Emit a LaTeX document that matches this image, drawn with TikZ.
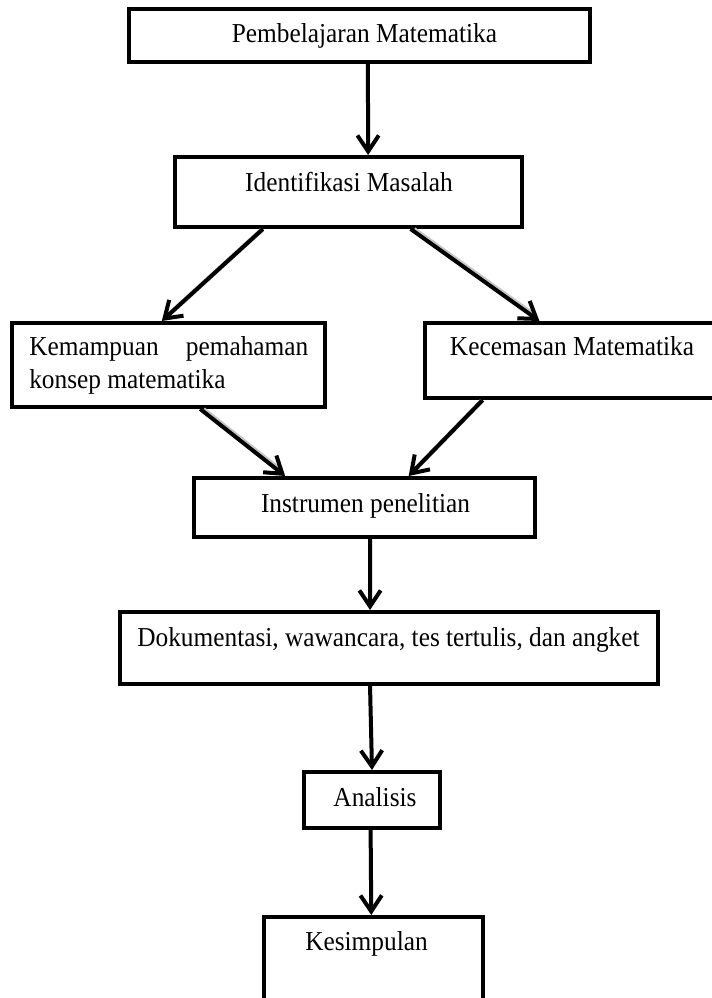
\documentclass[tikz,border=0pt]{standalone}
\usepackage{fontspec}
\setmainfont{Liberation Serif}
\usetikzlibrary{arrows.meta,calc}
\newcommand{\tx}[1]{\scalebox{1}[1.08]{#1}}
\begin{document}
\begin{tikzpicture}[x=0.75pt,y=-0.75pt,
  box/.style={draw, line width=3pt, rectangle, inner sep=0pt},
  lbl/.style={inner sep=0pt, font=\fontsize{19}{24.75}\selectfont},
  arr/.style={line width=3pt, -{Straight Barb[length=12pt,width=16pt,line width=3pt]}},
  shd/.style={preaction={draw=black!22, arrows=-, line width=3.5pt, shorten >=6pt, shorten <=2pt, transform canvas={shift={(0.9pt,0.9pt)}}}},
  ]
\clip (0,0) rectangle (712,998);
\fill[white] (0,0) rectangle (712,998);
% boxes
\node[box, minimum width=345.75pt, minimum height=39.75pt] (b1) at (359.5,35.5) {};
\node[box, minimum width=260.25pt, minimum height=52.5pt] (b2) at (348.5,192) {};
\node[box, minimum width=234.75pt, minimum height=63pt] (b3) at (168.5,365) {};
\node[box, minimum width=236.25pt, minimum height=56.25pt] (b4) at (582.5,360.5) {};
\node[box, minimum width=255.75pt, minimum height=44.25pt] (b5) at (364.5,507.5) {};
\node[box, minimum width=403.5pt, minimum height=54pt] (b6) at (389,648) {};
\node[box, minimum width=102pt, minimum height=42pt] (b7) at (372,800) {};
\node[box, minimum width=164.25pt, minimum height=77.25pt] (b8) at (373.5,968.5) {};
% texts
\node[lbl, anchor=base] (t1) at (364.5,43) {\tx{Pembelajaran Matematika}};
\node[lbl, anchor=base] (t2) at (349,192) {\tx{Identifikasi Masalah}};
\node[lbl, anchor=north west, align=left] (t3) at (29,336.5) {\tx{\makebox[209.25pt][s]{Kemampuan pemahaman}}\\\tx{konsep matematika}};
\node[lbl, anchor=base] (t4) at (572,355) {\tx{Kecemasan Matematika}};
\node[lbl, anchor=base] (t5) at (365.5,512) {\tx{Instrumen penelitian}};
\node[lbl, anchor=base] (t6) at (388.5,646) {\tx{Dokumentasi, wawancara, tes tertulis, dan angket}};
\node[lbl, anchor=base] (t7) at (375,806) {\tx{Analisis}};
\node[lbl, anchor=base] (t8) at (366.5,950) {\tx{Kesimpulan}};
% connectors
\draw[arr] ($(b1.south west)!0.518!(b1.south east)$) -- ($(b2.north west)!0.556!(b2.north east)$);
\draw[arr,shd] ($(b2.south west)!0.256!(b2.south east)$) -- ($(b3.north west)!0.479!(b3.north east)$);
\draw[arr,shd] ($(b2.south west)!0.677!(b2.south east)$) -- ($(b4.north west)!0.365!(b4.north east)$);
\draw[arr,shd] ($(b3.south west)!0.60!(b3.south east)$) -- ($(b5.north west)!0.27!(b5.north east)$);
\draw[arr,shd] ($(b4.south west)!0.187!(b4.south east)$) -- ($(b5.north west)!0.628!(b5.north east)$);
\draw[arr] ($(b5.south west)!0.516!(b5.south east)$) -- ($(b6.north west)!0.465!(b6.north east)$);
\draw[arr] ($(b6.south west)!0.465!(b6.south east)$) -- ($(b7.north west)!0.5!(b7.north east)$);
\draw[arr] ($(b7.south west)!0.49!(b7.south east)$) -- ($(b8.north west)!0.49!(b8.north east)$);
\end{tikzpicture}
\end{document}
